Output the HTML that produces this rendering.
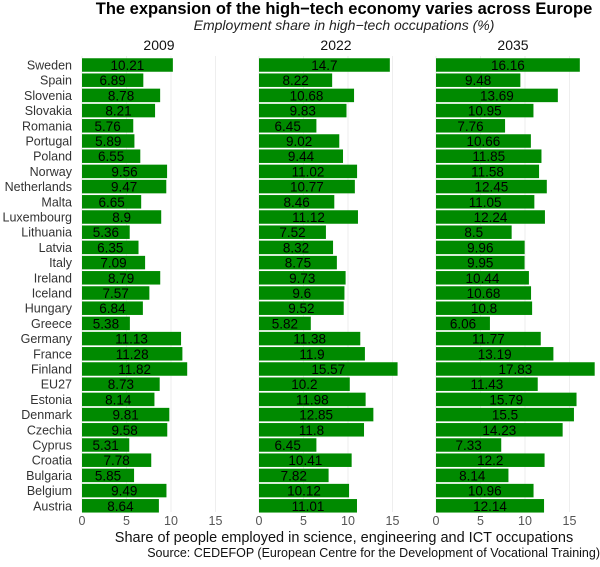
<!DOCTYPE html>
<html><head><meta charset="utf-8"><style>
body{margin:0;background:#fff;font-family:"Liberation Sans",sans-serif;}
svg text{font-family:"Liberation Sans",sans-serif;}
</style></head><body>
<svg id="c" width="600" height="562" xmlns="http://www.w3.org/2000/svg">
<text x="344" y="14" text-anchor="middle" font-size="16.5" font-weight="bold" fill="#000">The expansion of the high−tech economy varies across Europe</text>
<text x="344" y="30" text-anchor="middle" font-size="14" font-style="italic" fill="#222">Employment share in high−tech occupations (%)</text>
<g id="g"></g>
<text x="344" y="542" text-anchor="middle" font-size="14.5" fill="#111">Share of people employed in science, engineering and ICT occupations</text>
<text x="600" y="557" text-anchor="end" font-size="12.5" fill="#111">Source: CEDEFOP (European Centre for the Development of Vocational Training)</text>
</svg>
<script>
const countries=["Sweden","Spain","Slovenia","Slovakia","Romania","Portugal","Poland","Norway","Netherlands","Malta","Luxembourg","Lithuania","Latvia","Italy","Ireland","Iceland","Hungary","Greece","Germany","France","Finland","EU27","Estonia","Denmark","Czechia","Cyprus","Croatia","Bulgaria","Belgium","Austria"];
const years=["2009","2022","2035"];
const v2009=[10.21,6.89,8.78,8.21,5.76,5.89,6.55,9.56,9.47,6.65,8.9,5.36,6.35,7.09,8.79,7.57,6.84,5.38,11.13,11.28,11.82,8.73,8.14,9.81,9.58,5.31,7.78,5.85,9.49,8.64];
const v2022=[14.7,8.22,10.68,9.83,6.45,9.02,9.44,11.02,10.77,8.46,11.12,7.52,8.32,8.75,9.73,9.6,9.52,5.82,11.38,11.9,15.57,10.2,11.98,12.85,11.8,6.45,10.41,7.82,10.12,11.01];
const v2035=[16.16,9.48,13.69,10.95,7.76,10.66,11.85,11.58,12.45,11.05,12.24,8.5,9.96,9.95,10.44,10.68,10.8,6.06,11.77,13.19,17.83,11.43,15.79,15.5,14.23,7.33,12.2,8.14,10.96,12.14];
const ticks=[0,5,10,15];
const series=[v2009,v2022,v2035];
const NS="http://www.w3.org/2000/svg";
const g=document.getElementById('g');
const panelX=[82,259,436], scale=8.9, y0=65, step=15.2, bh=13.5;
const x=(p,v)=>panelX[p]+v*scale;
const y=i=>y0+i*step;
function mk(t,a,txt){const e=document.createElementNS(NS,t);for(const k in a)e.setAttribute(k,a[k]);if(txt!=null)e.textContent=txt;g.appendChild(e);return e;}
countries.forEach((c,i)=>{
 const t=mk('text',{x:72,y:y(i)+4.5,'text-anchor':'end','font-size':12.5,fill:'#333'},c);
 
 
});
years.forEach((yr,p)=>{
 ticks.forEach(tk=>{
  const l=mk('line',{x1:x(p,tk),x2:x(p,tk),y1:56,y2:512,stroke:'#eee','stroke-width':1});
  
  
  const t=mk('text',{x:x(p,tk),y:525,'text-anchor':'middle','font-size':12.5,fill:'#555'},tk);
  
  
 });
 const h=mk('text',{x:x(p,0)+77,y:50,'text-anchor':'middle','font-size':14,fill:'#111'},yr);
 
 
 series[p].forEach((v,i)=>{
  const r=mk('rect',{x:x(p,0),y:y(i)-bh/2,width:v*scale,height:bh,fill:'#008a00'});
  
  
  const t=mk('text',{x:x(p,0)+v*scale/2,y:y(i)+5,'text-anchor':'middle','font-size':13.5,fill:'#000'},String(v));
  
  
 });
});
</script>
</body></html>
